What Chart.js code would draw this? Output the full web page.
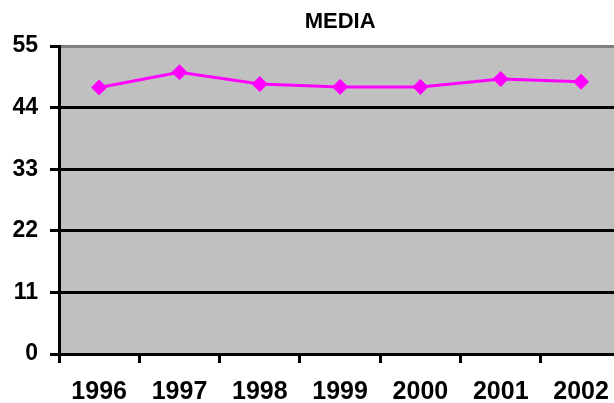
<!DOCTYPE html>
<html>
<head>
<meta charset="utf-8">
<script src="https://cdn.jsdelivr.net/npm/chart.js@4/dist/chart.umd.min.js"></script>
<style>
  html, body { margin: 0; padding: 0; background: #ffffff; overflow: hidden; width: 614px; height: 403px; }
  #frame { position: relative; width: 614px; height: 403px; overflow: hidden; }
  #chart { position: absolute; left: 0; top: 0; }
</style>
</head>
<body>
<div id="frame"><canvas id="chart" width="623" height="403"></canvas></div>
<script>
// Yearly averages
const years = ['1996', '1997', '1998', '1999', '2000', '2001', '2002'];
const media = [47.6, 50.3, 48.2, 47.7, 47.7, 49.1, 48.6];
const yMin = 0;
const yMax = 55;
const yStep = 11;

const FONT = '"Liberation Sans", Arial, Helvetica, sans-serif';

// Grey plot background behind the chart area
const plotBackground = {
  id: 'plotBackground',
  beforeDraw(chart) {
    const { ctx, chartArea: a } = chart;
    ctx.save();
    ctx.fillStyle = '#c0c0c0';
    ctx.fillRect(a.left, a.top, a.right - a.left, a.bottom - a.top);
    ctx.restore();
  }
};

new Chart(document.getElementById('chart'), {
  type: 'line',
  data: {
    labels: years,
    datasets: [{
      label: 'MEDIA',
      data: media,
      borderColor: '#ff00ff',
      backgroundColor: '#ff00ff',
      borderWidth: 3,
      tension: 0,
      pointStyle: 'rectRot',
      pointRadius: 7.5,
      pointHoverRadius: 7.5,
      pointBackgroundColor: '#ff00ff',
      pointBorderColor: '#ff00ff',
      pointBorderWidth: 1
    }]
  },
  options: {
    responsive: false,
    animation: false,
    events: [],
    layout: { autoPadding: false, padding: 0 },
    plugins: {
      legend: { display: false },
      tooltip: { enabled: false },
      title: {
        display: true,
        text: 'MEDIA',
        color: '#000000',
        fullSize: false,
        font: { family: FONT, size: 22, weight: 'bold' },
        padding: { top: 9, bottom: 10.6 }
      }
    },
    scales: {
      x: {
        type: 'category',
        offset: true,
        afterFit(scale) { scale.height = 49; },
        border: { display: true, color: '#000000', width: 3 },
        grid: {
          offset: true,
          drawOnChartArea: false,
          drawTicks: true,
          tickLength: 9,
          tickWidth: 3,
          tickColor: '#000000',
          color: '#000000'
        },
        ticks: {
          color: '#000000',
          padding: 14,
          maxRotation: 0,
          autoSkip: false,
          font: { family: FONT, size: 25, weight: 'bold' }
        }
      },
      y: {
        min: yMin,
        max: yMax,
        afterFit(scale) { scale.width = 59; },
        border: { display: true, color: '#000000', width: 3 },
        grid: {
          drawTicks: true,
          tickLength: 9,
          tickWidth: 3,
          tickColor: '#000000',
          color: (c) => (c.tick && c.tick.value === yMax ? '#808080' : '#000000'),
          lineWidth: 3
        },
        ticks: {
          stepSize: yStep,
          color: '#000000',
          padding: 12,
          font: { family: FONT, size: 23, weight: 'bold' }
        }
      }
    }
  },
  plugins: [plotBackground]
});
</script>
</body>
</html>
